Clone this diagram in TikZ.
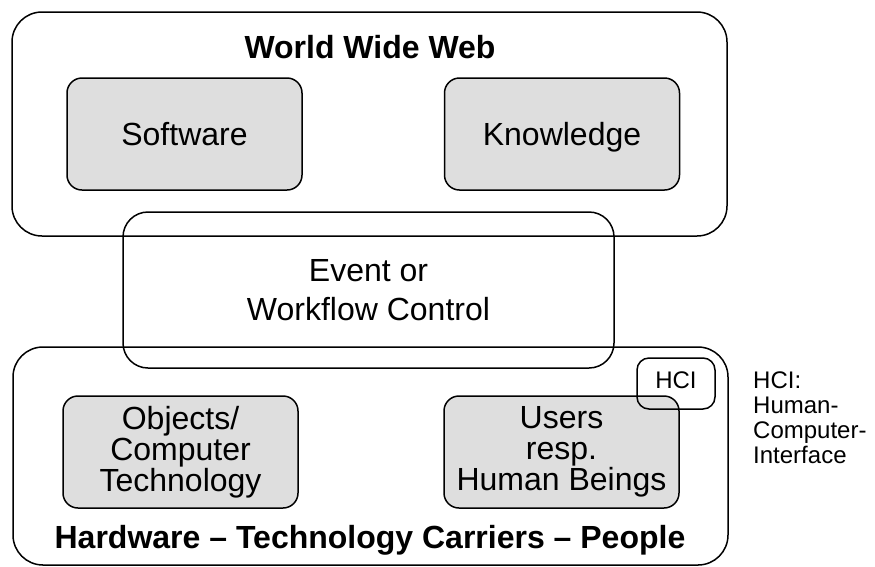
\documentclass[tikz,border=0pt]{standalone}
\usepackage{fontspec}
\setmainfont{Liberation Sans}
\begin{document}
\begin{tikzpicture}[x=1pt, y=-1pt,
  frame/.style = {draw, line width=1.5pt, rounded corners=30pt, inner sep=0pt},
  part/.style = {draw, line width=1.5pt, rounded corners=15pt, fill=black!13, inner sep=0pt,
    minimum width=235pt, minimum height=112pt, align=center, font=\fontsize{32}{31}\selectfont},
  oneline/.style = {text height=23pt, text depth=0pt},
  title/.style = {anchor=base, font=\fontsize{32}{38}\selectfont\bfseries}]

\useasboundingbox (0,0) rectangle (875,566);

\node[frame, minimum width=715pt, minimum height=224pt] (www) at (369.5,124) {};
\node[title] (wwwtitle) at (370,58) {World Wide Web};
\node[part, oneline] (soft) at (184.5,134) {Software};
\node[part, oneline] (know) at (562,134) {Knowledge};

\node[frame, rounded corners=25pt, minimum width=491pt, minimum height=156pt, align=center,
  font=\fontsize{32}{39}\selectfont] (event) at (368.5,290) {Event or\\Workflow Control};

\node[frame, minimum width=715pt, minimum height=218pt] (hw) at (370.5,456) {};
\node[title] (hwtitle) at (370,548) {Hardware -- Technology Carriers -- People};
\node[part] (obj) at (180.5,452) {Objects/\\Computer\\Technology};
\node[part] (users) at (561.5,452) {Users\\resp.\\Human Beings};

\node[frame, rounded corners=12pt, minimum width=78pt, minimum height=51pt,
  text height=17pt, text depth=7pt, font=\fontsize{24}{25}\selectfont] (hci) at (676,383.5) {HCI};
\node[anchor=base west, align=left, inner sep=0pt, font=\fontsize{24}{25}\selectfont] (hcinote)
  at (753,463) {HCI:\\Human-\\Computer-\\Interface};

\end{tikzpicture}
\end{document}
